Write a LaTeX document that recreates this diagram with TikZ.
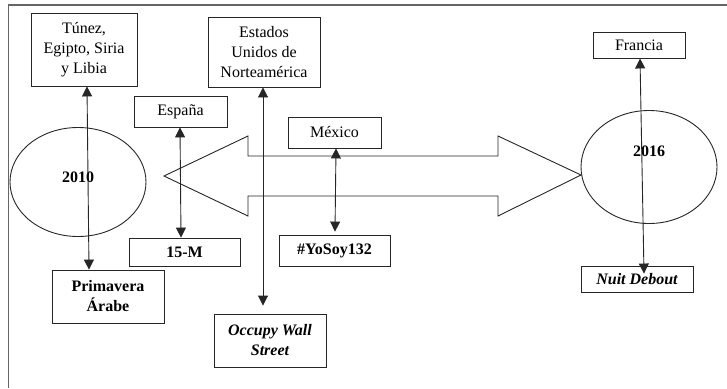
\documentclass[tikz,border=0pt]{standalone}
\usepackage{fontspec}
\setmainfont{Liberation Serif}
\usetikzlibrary{arrows.meta,shapes.geometric}
\begin{document}
\begin{tikzpicture}[x=1pt,y=-1pt,
  box/.style={draw=black!85,line width=0.9pt,rectangle,inner sep=0pt,align=center,
    font=\fontsize{16}{20}\selectfont},
  oval/.style={draw=black!85,line width=0.9pt,ellipse,inner sep=0pt},
  yeartext/.style={inner sep=0pt,font=\fontsize{16}{20}\selectfont\bfseries},
  biarrow/.style={draw=black!85,line width=0.9pt,{Triangle[length=10pt,width=10pt]}-{Triangle[length=10pt,width=10pt]}},
  framegray/.style={draw=black!60}]
\useasboundingbox (0,0) rectangle (727,388);
% frame
\draw[framegray,line width=1.8pt] (8,5) -- (727,5);
\draw[framegray,line width=1pt] (8,5) -- (8,388);
% double arrow
\draw[draw=black!85,line width=0.9pt] (164,176) -- (248,136) -- (248,156) -- (498,156) -- (498,136)
  -- (581,175) -- (498,216) -- (498,196) -- (248,196) -- (248,216) -- cycle;
% ellipses
\node[oval,minimum width=136pt,minimum height=109pt] (e2010) at (78,182) {};
\node[yeartext] (t2010) at (78,177) {2010};
\node[oval,minimum width=136pt,minimum height=113pt] (e2016) at (649,167) {};
\node[yeartext] (t2016) at (649,151) {2016};
% boxes
\node[box,minimum width=106pt,minimum height=73pt] (tunez) at (84,49.5) {Túnez,\\Egipto, Siria\\y Libia};
\node[box,minimum width=93pt,minimum height=31pt] (espana) at (180.5,111.5) {España};
\node[box,minimum width=112pt,minimum height=70pt] (eeuu) at (264,52) {Estados\\Unidos de\\Norteamérica};
\node[box,minimum width=93pt,minimum height=31pt] (mexico) at (334.5,132.5) {México};
\node[box,minimum width=92pt,minimum height=26pt] (francia) at (639,45) {Francia};
\node[box,minimum width=112pt,minimum height=53pt,font=\fontsize{16}{20}\selectfont\bfseries] (primavera) at (108,296.5) {Primavera\\Árabe};
\node[box,minimum width=111pt,minimum height=28pt,font=\fontsize{16}{20}\selectfont\bfseries] (quincem) at (184.5,252) {15-M};
\node[box,minimum width=112pt,minimum height=53pt,font=\fontsize{16}{20}\selectfont\bfseries\itshape] (occupy) at (270,340.5) {Occupy Wall\\Street};
\node[box,minimum width=111pt,minimum height=31pt,font=\fontsize{16}{20}\selectfont\bfseries] (yosoy) at (334.5,250.5) {\#YoSoy132};
\node[box,minimum width=112pt,minimum height=26pt,font=\fontsize{16}{20}\selectfont\bfseries\itshape] (nuit) at (637,279) {Nuit Debout};
% connectors
\draw[biarrow] ([xshift=3pt]tunez.south) -- ([xshift=-19pt]primavera.north);
\draw[biarrow] ([xshift=-0.5pt]espana.south) -- ([xshift=-3.5pt]quincem.north);
\draw[biarrow] ([xshift=-1pt]eeuu.south) -- ([xshift=-7pt,yshift=8pt]occupy.north);
\draw[biarrow] ([xshift=1.5pt]mexico.south) -- ([xshift=0.5pt,yshift=3pt]yosoy.north);
\draw[biarrow] ([xshift=1pt]francia.south) -- ([xshift=7pt,yshift=-8pt]nuit.north);
\end{tikzpicture}
\end{document}
